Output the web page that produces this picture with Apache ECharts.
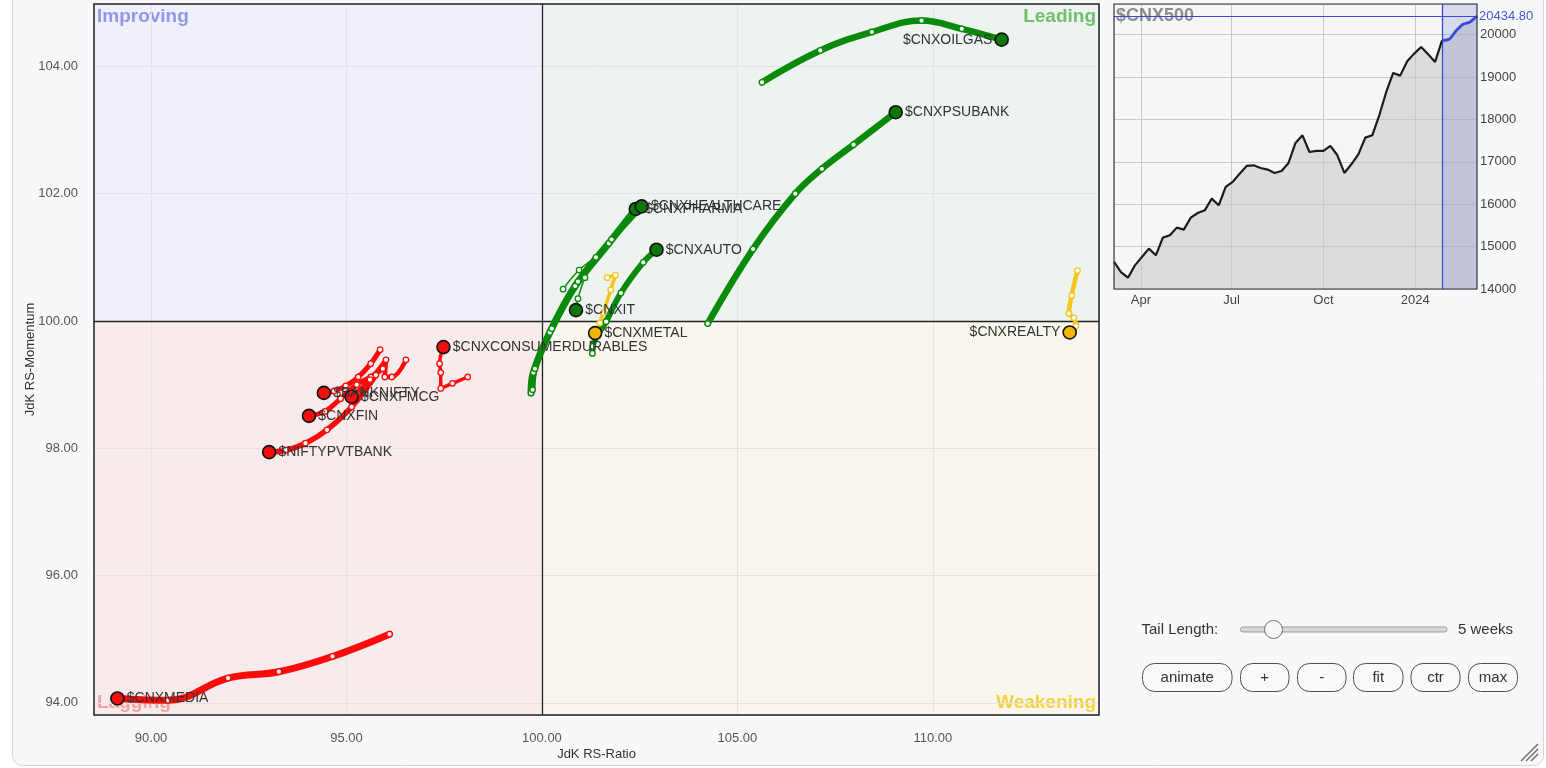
<!DOCTYPE html>
<html>
<head>
<meta charset="utf-8">
<title>RRG $CNX500</title>
<script src="https://cdn.jsdelivr.net/npm/echarts@6.0.0/dist/echarts.min.js"></script>
<style>
html,body{margin:0;padding:0;background:#ffffff;}
#chart{width:1546px;height:768px;}
</style>
</head>
<body>
<div id="chart"></div>
<script>
// ---------------- DATA ----------------
// RRG axis extents (JdK RS-Ratio, JdK RS-Momentum)
const ratioRange = [88.54, 114.25];
const momentumRange = [93.81, 104.98];
const centerValue = 100;

// Tails: [RS-Ratio, RS-Momentum], oldest -> latest (5 weeks tail + head)
const tailCNXOILGAS = [[105.63,103.75],[107.12,104.25],[108.44,104.54],[109.71,104.72],[110.74,104.59],[111.76,104.42]];
const tailCNXPSUBANK = [[104.24,99.96],[105.40,101.13],[106.48,102.00],[107.16,102.39],[107.97,102.77],[109.05,103.28]];
const tailCNXHEALTHCARE = [[99.76,98.92],[99.82,99.25],[100.25,99.88],[100.92,100.62],[101.78,101.28],[102.55,101.80]];
const tailCNXPHARMA = [[99.72,98.87],[99.78,99.19],[100.20,99.82],[100.85,100.55],[101.71,101.22],[102.40,101.76]];
const tailCNXAUTO = [[101.29,99.49],[101.30,99.60],[101.64,99.99],[102.02,100.44],[102.59,100.92],[102.93,101.12]];
const tailCNXIT = [[100.54,100.50],[100.95,100.80],[101.38,101.00],[101.10,100.68],[100.92,100.35],[100.87,100.17]];
const tailCNXMETAL = [[101.67,100.68],[101.88,100.72],[101.76,100.49],[101.57,100.13],[101.48,99.97],[101.36,99.81]];
const tailCNXREALTY = [[113.70,100.79],[113.55,100.40],[113.48,100.12],[113.61,100.05],[113.66,99.92],[113.50,99.82]];
const tailCNXCONSUMERDURABLES = [[98.10,99.12],[97.71,99.02],[97.41,98.94],[97.41,99.19],[97.38,99.33],[97.48,99.59]];
const tailBANKNIFTY = [[95.86,99.55],[95.62,99.33],[95.30,99.12],[94.98,98.98],[94.68,98.90],[94.42,98.87]];
const tailCNXFMCG = [[96.52,99.39],[96.16,99.12],[95.98,99.12],[96.01,99.39],[95.60,99.08],[95.13,98.81]];
const tailCNXFIN = [[95.93,99.25],[95.62,99.12],[95.26,99.00],[94.85,98.78],[94.45,98.58],[94.04,98.51]];
const tailNIFTYPVTBANK = [[95.75,99.15],[95.13,98.65],[94.50,98.29],[93.95,98.08],[93.45,97.97],[93.02,97.94]];
const tailCNXMEDIA = [[96.10,95.08],[94.64,94.73],[93.27,94.49],[91.97,94.39],[90.43,94.04],[89.14,94.07]];

// Sector list (name, tail) in drawing order
const sectorTails = [
  ['$CNXMEDIA', tailCNXMEDIA],
  ['$NIFTYPVTBANK', tailNIFTYPVTBANK],
  ['$CNXFIN', tailCNXFIN],
  ['$CNXFMCG', tailCNXFMCG],
  ['$BANKNIFTY', tailBANKNIFTY],
  ['$CNXCONSUMERDURABLES', tailCNXCONSUMERDURABLES],
  ['$CNXREALTY', tailCNXREALTY],
  ['$CNXMETAL', tailCNXMETAL],
  ['$CNXIT', tailCNXIT],
  ['$CNXAUTO', tailCNXAUTO],
  ['$CNXPHARMA', tailCNXPHARMA],
  ['$CNXHEALTHCARE', tailCNXHEALTHCARE],
  ['$CNXPSUBANK', tailCNXPSUBANK],
  ['$CNXOILGAS', tailCNXOILGAS]
];

// Benchmark $CNX500 weekly closes
const cnx500StartDate = [2023, 2, 5];   // first weekly bar (UTC y, m, d)
const cnx500Weekly = [14637,14400,14267,14558,14755,14951,14794,15211,15266,15447,15399,15682,15792,15855,16130,15973,16406,16524,16720,16901,16917,16854,16815,16736,16783,16972,17443,17624,17231,17255,17255,17373,17153,16736,16940,17176,17569,17624,18096,18646,19094,19031,19369,19550,19708,19535,19354,19865,19889,20085,20242,20297,20434.80];
const cnx500HighlightFrom = 47;          // index where the RRG period starts
const cnx500Last = 20434.80;
const cnx500Range = [14000, 20720];
const quarterDates = [[2023,3,1],[2023,6,1],[2023,9,1],[2024,0,1]];
const quarterLabels = ['Apr','Jul','Oct','2024'];

// ---------------- STYLES ----------------
const FONT = '"Liberation Sans", Arial, sans-serif';
const palette = {
  leading:   {line:'#0a8a0a', head:'#0a780a'},
  lagging:   {line:'#ff0a0a', head:'#f01010'},
  weakening: {line:'#f5c518', head:'#f2b600'}
};
const tailStyle = {
  '$CNXMEDIA':            {group:'lagging', width:7, side:'right'},
  '$NIFTYPVTBANK':        {group:'lagging', width:5.5, side:'right'},
  '$CNXFIN':              {group:'lagging', width:5, side:'right'},
  '$CNXFMCG':             {group:'lagging', width:4.5, side:'right'},
  '$BANKNIFTY':           {group:'lagging', width:5, side:'right'},
  '$CNXCONSUMERDURABLES': {group:'lagging', width:3.5, side:'right'},
  '$CNXREALTY':           {group:'weakening', width:4.5, side:'left'},
  '$CNXMETAL':            {group:'weakening', width:3.5, side:'right'},
  '$CNXIT':               {group:'leading', width:1.5, side:'right'},
  '$CNXAUTO':             {group:'leading', width:6, side:'right'},
  '$CNXPHARMA':           {group:'leading', width:7, side:'right'},
  '$CNXHEALTHCARE':       {group:'leading', width:6, side:'right'},
  '$CNXPSUBANK':          {group:'leading', width:6.5, side:'right'},
  '$CNXOILGAS':           {group:'leading', width:6.5, side:'left'}
};

function sectorSeries(name, pts) {
  const st = tailStyle[name];
  const pal = palette[st.group];
  return {
    type: 'line', name: name, xAxisIndex: 0, yAxisIndex: 0, z: 10,
    smooth: 0.4, symbol: 'circle', symbolSize: 5.5, showSymbol: true, showAllSymbol: true,
    clip: false, silent: true, animation: false,
    lineStyle: {color: pal.line, width: st.width, cap: 'round', join: 'round'},
    itemStyle: {color: '#ffffff', borderColor: pal.line, borderWidth: 1.3},
    label: {show: false},
    emphasis: {disabled: true},
    data: pts.map(function (p, i) {
      if (i < pts.length - 1) return {value: p};
      return {
        value: p, symbolSize: 13,
        itemStyle: {color: pal.head, borderColor: '#111111', borderWidth: 1.6},
        label: {show: true, position: st.side, distance: 2, formatter: name,
                color: '#333333', fontSize: 14, fontFamily: FONT}
      };
    })
  };
}

const dayMs = 86400000;
const t0 = Date.UTC(cnx500StartDate[0], cnx500StartDate[1], cnx500StartDate[2]);
const cnxPoints = cnx500Weekly.map(function (v, i) { return [t0 + i * 7 * dayMs, v]; });
const tStart = cnxPoints[0][0];
const tEnd = cnxPoints[cnxPoints.length - 1][0];
const tHi = cnxPoints[cnx500HighlightFrom][0];
const quarterTicks = quarterDates.map(function (d) { return Date.UTC(d[0], d[1], d[2]); });

const quadLabel = function (text, color, pos) {
  return {show: true, position: pos, distance: 3, formatter: text, color: color,
          fontSize: 19, fontWeight: 'bold', fontFamily: FONT};
};

// ---------------- OPTION ----------------
const series = [];
// quadrant backgrounds + centre lines
series.push({
  type: 'line', xAxisIndex: 0, yAxisIndex: 0, data: [], z: 1, silent: true, animation: false,
  markArea: {
    silent: true, z: 1,
    data: [
      [{xAxis: ratioRange[0], yAxis: centerValue, itemStyle: {color: '#eff0f9'}, label: quadLabel('Improving', '#9197ea', 'insideTopLeft')},
       {xAxis: centerValue, yAxis: momentumRange[1]}],
      [{xAxis: centerValue, yAxis: centerValue, itemStyle: {color: '#edf3ee'}, label: quadLabel('Leading', '#6fbf70', 'insideTopRight')},
       {xAxis: ratioRange[1], yAxis: momentumRange[1]}],
      [{xAxis: ratioRange[0], yAxis: momentumRange[0], itemStyle: {color: '#f8ebeb'}, label: quadLabel('Lagging', '#f3a2a2', 'insideBottomLeft')},
       {xAxis: centerValue, yAxis: centerValue}],
      [{xAxis: centerValue, yAxis: momentumRange[0], itemStyle: {color: '#f9f6ee'}, label: quadLabel('Weakening', '#f4d23e', 'insideBottomRight')},
       {xAxis: ratioRange[1], yAxis: centerValue}]
    ]
  },
  markLine: {
    silent: true, z: 4, symbol: ['none', 'none'], label: {show: false},
    lineStyle: {color: '#222222', width: 1.3, type: 'solid'},
    data: [{xAxis: centerValue}, {yAxis: centerValue}]
  }
});
sectorTails.forEach(function (s) { series.push(sectorSeries(s[0], s[1])); });

// benchmark mini chart
series.push({
  type: 'line', xAxisIndex: 1, yAxisIndex: 1, z: 1, silent: true, animation: false,
  symbol: 'none', data: cnxPoints,
  lineStyle: {width: 0, opacity: 0},
  areaStyle: {color: '#dcdcdc', opacity: 1},
  markLine: {
    silent: true, z: 2, symbol: ['none', 'none'], label: {show: false},
    lineStyle: {color: '#c9c9c9', width: 1, type: 'solid'},
    data: quarterTicks.map(function (t) { return {xAxis: t}; })
  }
});
series.push({
  type: 'line', xAxisIndex: 1, yAxisIndex: 1, z: 5, silent: true, animation: false,
  symbol: 'none', data: cnxPoints.slice(0, cnx500HighlightFrom + 1),
  lineStyle: {color: '#1c1c1c', width: 2.2}
});
series.push({
  type: 'line', xAxisIndex: 1, yAxisIndex: 1, z: 6, silent: true, animation: false,
  symbol: 'none', data: cnxPoints.slice(cnx500HighlightFrom), smooth: 0.3,
  lineStyle: {color: '#3a4bd8', width: 2.8},
  markArea: {
    silent: true, z: 3,
    itemStyle: {color: 'rgba(80,92,200,0.18)'},
    data: [[{xAxis: tHi}, {xAxis: tEnd}]]
  },
  markLine: {
    silent: true, z: 5, symbol: ['none', 'none'],
    data: [
      {xAxis: tHi, lineStyle: {color: '#3a4bd8', width: 1.3, type: 'solid'}, label: {show: false}},
      {yAxis: cnx500Last, lineStyle: {color: '#3a4bd8', width: 1.2, type: 'solid'},
       label: {show: true, position: 'end', distance: 2, formatter: cnx500Last.toFixed(2),
               color: '#4a56d6', fontSize: 13, fontFamily: FONT}}
    ]
  }
});

// ---------------- GRAPHIC (frame + controls) ----------------
const txt = function (text, x, y, size, color, extra) {
  const st = {text: text, x: x, y: y, fill: color, font: size + 'px ' + FONT, verticalAlign: 'middle', align: 'left'};
  if (extra) Object.assign(st, extra);
  return {type: 'text', z: 30, silent: true, style: st};
};
const buttons = [['animate', 1142.5, 89.5], ['+', 1240.5, 48.5], ['-', 1297.5, 48.5], ['fit', 1353.5, 49.5], ['ctr', 1411, 49], ['max', 1468.5, 49]];
const graphics = [
  {type: 'rect', z: -10, silent: true, shape: {x: 12.5, y: -30, width: 1531, height: 795.5, r: 10},
   style: {fill: '#f7f8fa', stroke: '#d4d6da', lineWidth: 1}},
  {type: 'rect', z: 50, silent: true, shape: {x: 94, y: 4, width: 1005, height: 711},
   style: {fill: 'none', stroke: '#222222', lineWidth: 1.5}},
  {type: 'rect', z: 50, silent: true, shape: {x: 1114, y: 4, width: 363, height: 285},
   style: {fill: 'none', stroke: '#333333', lineWidth: 1.2}},
  {type: 'text', z: 3, silent: true, style: {text: '$CNX500', x: 1116, y: 16, fill: 'rgba(115,115,115,0.8)',
    font: 'bold 18px ' + FONT, verticalAlign: 'middle'}},
  txt('Tail Length:', 1141.5, 629.5, 15, '#333333'),
  {type: 'rect', z: 30, silent: true, shape: {x: 1240.5, y: 627, width: 206.5, height: 5, r: 2.5},
   style: {fill: '#d9d9d9', stroke: '#9b9b9b', lineWidth: 1}},
  {type: 'circle', z: 31, silent: true, shape: {cx: 1273.5, cy: 629.5, r: 9},
   style: {fill: '#f8f8f8', stroke: '#6f6f6f', lineWidth: 1}},
  txt('5 weeks', 1458, 629.5, 15, '#333333'),
  {type: 'line', z: 30, silent: true, shape: {x1: 1538, y1: 744, x2: 1521, y2: 761}, style: {stroke: '#6a6a6a', lineWidth: 1.4}},
  {type: 'line', z: 30, silent: true, shape: {x1: 1538, y1: 749, x2: 1526, y2: 761}, style: {stroke: '#6a6a6a', lineWidth: 1.4}},
  {type: 'line', z: 30, silent: true, shape: {x1: 1538, y1: 754, x2: 1531, y2: 761}, style: {stroke: '#6a6a6a', lineWidth: 1.4}}
];
buttons.forEach(function (b) {
  graphics.push({type: 'rect', z: 30, silent: true, shape: {x: b[1], y: 663.5, width: b[2], height: 28, r: 12},
    style: {fill: '#f8f9fb', stroke: '#4f4f4f', lineWidth: 1}});
  graphics.push(txt(b[0], b[1] + b[2] / 2, 678, 15, '#333333', {align: 'center'}));
});

const option = {
  animation: false,
  backgroundColor: '#ffffff',
  textStyle: {fontFamily: FONT},
  grid: [
    {left: 94, top: 4, width: 1005, height: 711, show: false, containLabel: false, outerBoundsMode: 'none'},
    {left: 1114, top: 4, width: 363, height: 285, show: true, backgroundColor: '#f6f6f6', borderWidth: 0, containLabel: false, outerBoundsMode: 'none'}
  ],
  xAxis: [
    {type: 'value', gridIndex: 0, min: ratioRange[0], max: ratioRange[1], splitNumber: 5, z: 2,
     name: 'JdK RS-Ratio', nameLocation: 'middle', nameGap: 33, nameMoveOverlap: false,
     nameTextStyle: {color: '#333333', fontSize: 13, fontFamily: FONT},
     axisLine: {show: false}, axisTick: {show: false},
     axisLabel: {color: '#555555', fontSize: 13, margin: 17, fontFamily: FONT, showMinLabel: false, showMaxLabel: false,
                 formatter: function (v) { return v.toFixed(2); }},
     splitLine: {show: true, lineStyle: {color: '#e3e3e3', width: 1}}},
    {type: 'value', gridIndex: 1, min: tStart, max: tEnd, z: 2,
     axisLine: {show: false}, axisTick: {show: false}, splitLine: {show: false},
     axisLabel: {customValues: quarterTicks, color: '#444444', fontSize: 13, margin: 5, fontFamily: FONT,
                 formatter: function (v) { const k = quarterTicks.indexOf(v); return k >= 0 ? quarterLabels[k] : ''; }}}
  ],
  yAxis: [
    {type: 'value', gridIndex: 0, min: momentumRange[0], max: momentumRange[1], splitNumber: 5, z: 2,
     name: 'JdK RS-Momentum', nameLocation: 'middle', nameGap: 57, nameMoveOverlap: false,
     nameTextStyle: {color: '#333333', fontSize: 13, fontFamily: FONT},
     axisLine: {show: false}, axisTick: {show: false},
     axisLabel: {color: '#555555', fontSize: 13, margin: 16, fontFamily: FONT, showMinLabel: false, showMaxLabel: false,
                 formatter: function (v) { return v.toFixed(2); }},
     splitLine: {show: true, lineStyle: {color: '#e3e3e3', width: 1}}},
    {type: 'value', gridIndex: 1, position: 'right', min: cnx500Range[0], max: cnx500Range[1], splitNumber: 5, z: 2,
     axisLine: {show: false}, axisTick: {show: false},
     axisLabel: {color: '#444444', fontSize: 13, margin: 3, fontFamily: FONT, showMaxLabel: false,
                 formatter: function (v) { return String(v); }},
     splitLine: {show: true, lineStyle: {color: '#c9c9c9', width: 1}}}
  ],
  graphic: {elements: graphics},
  series: series
};

const chart = echarts.init(document.getElementById('chart'), null, {renderer: 'canvas'});
chart.setOption(option);
</script>
</body>
</html>
